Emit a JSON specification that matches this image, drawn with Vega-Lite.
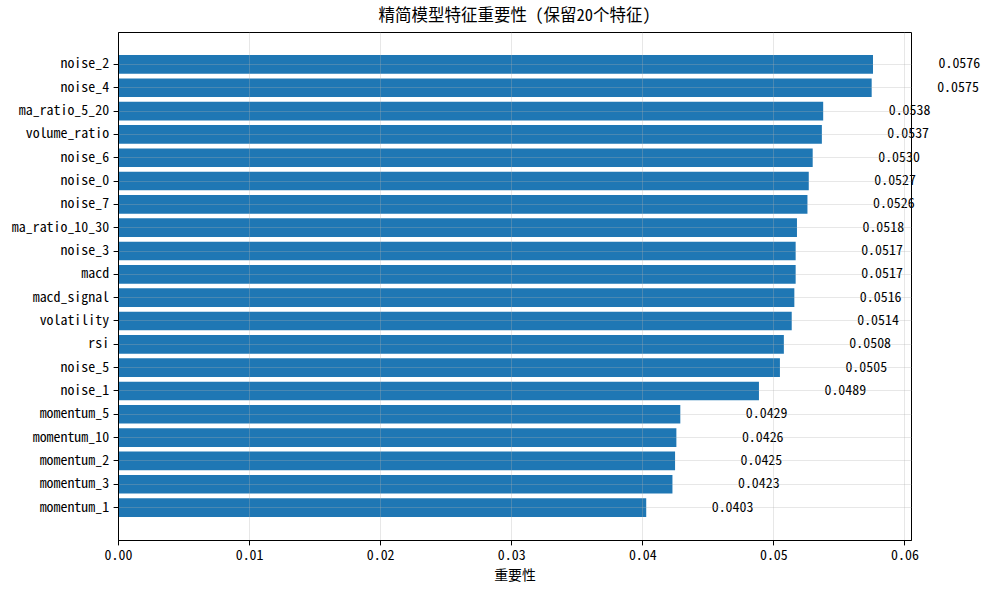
{
  "$schema": "https://vega.github.io/schema/vega-lite/v6.json",
  "description": "精简模型特征重要性",
  "autosize": {"type": "none"},
  "padding": {"left": 118, "top": 32, "right": 79, "bottom": 50},
  "width": 793,
  "height": 508,
  "background": "white",
  "title": {
    "text": "精简模型特征重要性 (保留20个特征)",
    "fontSize": 16.5,
    "fontWeight": "normal",
    "font": "Noto Sans Mono CJK SC, Noto Sans CJK SC",
    "color": "black",
    "offset": 8
  },
  "data": {
    "values": [
      {"feature": "noise_2", "importance": 0.0576},
      {"feature": "noise_4", "importance": 0.0575},
      {"feature": "ma_ratio_5_20", "importance": 0.0538},
      {"feature": "volume_ratio", "importance": 0.0537},
      {"feature": "noise_6", "importance": 0.0530},
      {"feature": "noise_0", "importance": 0.0527},
      {"feature": "noise_7", "importance": 0.0526},
      {"feature": "ma_ratio_10_30", "importance": 0.0518},
      {"feature": "noise_3", "importance": 0.0517},
      {"feature": "macd", "importance": 0.0517},
      {"feature": "macd_signal", "importance": 0.0516},
      {"feature": "volatility", "importance": 0.0514},
      {"feature": "rsi", "importance": 0.0508},
      {"feature": "noise_5", "importance": 0.0505},
      {"feature": "noise_1", "importance": 0.0489},
      {"feature": "momentum_5", "importance": 0.0429},
      {"feature": "momentum_10", "importance": 0.0426},
      {"feature": "momentum_2", "importance": 0.0425},
      {"feature": "momentum_3", "importance": 0.0423},
      {"feature": "momentum_1", "importance": 0.0403}
    ]
  },
  "encoding": {
    "y": {
      "field": "feature",
      "type": "nominal",
      "sort": null,
      "title": null,
      "scale": {"paddingInner": 0.2, "paddingOuter": 0.99},
      "axis": {
        "grid": true,
        "gridColor": "#b0b0b0",
        "gridOpacity": 0.3,
        "bandPosition": 0.5,
        "zindex": 1,
        "domainColor": "black",
        "tickColor": "black",
        "tickSize": 4.9,
        "labelPadding": 4.5,
        "labelColor": "black",
        "labelFontSize": 13.9,
        "labelFont": "Noto Sans Mono CJK SC, Liberation Mono"
      }
    },
    "x": {
      "field": "importance",
      "type": "quantitative",
      "title": "重要性",
      "scale": {"domain": [0, 0.0605], "nice": false, "zero": true},
      "axis": {
        "values": [0, 0.01, 0.02, 0.03, 0.04, 0.05, 0.06],
        "format": ".2f",
        "labelFlush": false,
        "grid": true,
        "gridColor": "#b0b0b0",
        "gridOpacity": 0.3,
        "zindex": 1,
        "domainColor": "black",
        "tickColor": "black",
        "tickSize": 4.9,
        "labelPadding": 3.5,
        "labelColor": "black",
        "labelFontSize": 13.9,
        "labelFont": "Noto Sans Mono CJK SC, Liberation Mono",
        "titleFont": "Noto Sans Mono CJK SC, Noto Sans CJK SC",
        "titleFontSize": 13.9,
        "titleFontWeight": "normal",
        "titleColor": "black",
        "titlePadding": 6
      }
    }
  },
  "layer": [
    {
      "mark": {"type": "bar", "color": "#1f77b4"}
    },
    {
      "mark": {
        "type": "text",
        "align": "left",
        "baseline": "middle",
        "dx": 65.5,
        "fontSize": 13.9,
        "font": "Noto Sans Mono CJK SC, Liberation Mono",
        "color": "black"
      },
      "encoding": {
        "text": {"field": "importance", "type": "quantitative", "format": ".4f"}
      }
    }
  ],
  "config": {
    "view": {"stroke": "black", "strokeWidth": 1}
  }
}
